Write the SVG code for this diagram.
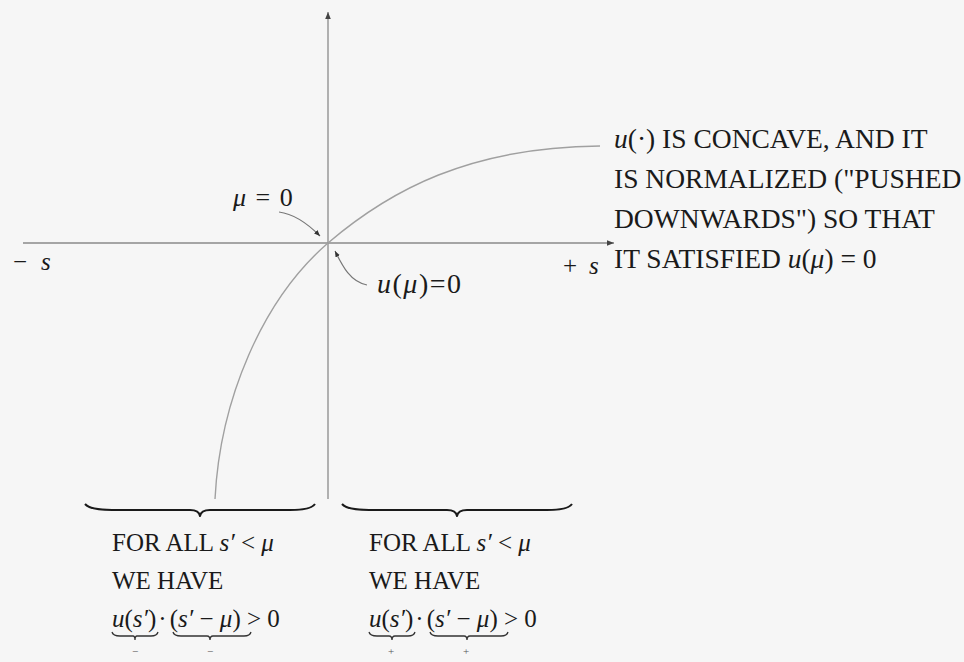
<svg xmlns="http://www.w3.org/2000/svg" width="964" height="662" viewBox="0 0 964 662">
<style>
.ax{stroke:#8a8a8a;stroke-width:1.3;fill:none}
.cv{stroke:#a0a0a0;stroke-width:1.4;fill:none}
.ld{stroke:#777;stroke-width:1.2;fill:none}
.br{stroke:#1a1a1a;stroke-width:2;fill:none;stroke-linejoin:round}
.sb{stroke:#333;stroke-width:1.3;fill:none}
text{fill:#1a1a1a}
.i{font-style:italic}
.t{font-size:27.5px}
.b{font-size:25px}
.sg{font-size:11px;fill:#555}
</style>
<defs>
<marker id="ah" markerWidth="8" markerHeight="8" refX="7" refY="4" orient="auto" markerUnits="userSpaceOnUse">
<path d="M0,1.2 L7,4 L0,6.8 Z" fill="#444"/>
</marker>
<marker id="ah2" markerWidth="8" markerHeight="8" refX="6" refY="3" orient="auto" markerUnits="userSpaceOnUse">
<path d="M0,0.6 L6,3 L0,5.4 Z" fill="#333"/>
</marker>
</defs>
<rect width="964" height="662" fill="#f6f6f6"/>
<g id="connectors">
<line class="ax" x1="23" y1="243" x2="614" y2="243" marker-end="url(#ah)"/>
<line class="ax" x1="328" y1="499" x2="328" y2="12" marker-end="url(#ah)"/>
<path class="cv" d="M215,499 C220,400 262,300 328,243 C390,190 470,147 600,146"/>
<path class="ld" d="M279,212 C295,214 308,224 320,236" marker-end="url(#ah2)"/>
<path class="ld" d="M367,285 C350,282 342,265 335,251" marker-end="url(#ah2)"/>
</g>
<g font-family="Liberation Serif, Tinos, Times New Roman, DejaVu Serif, serif">
<g id="axis-labels">
<text class="b" x="13" y="270">−<tspan class="i" dx="14">s</tspan></text>
<text class="b" x="563" y="274">+<tspan class="i" dx="12">s</tspan></text>
</g>
<g id="mu-label">
<text x="233" y="206" style="font-size:26px;letter-spacing:1.5px"><tspan class="i">μ</tspan> = 0</text>
</g>
<g id="u-mu-label">
<text x="377" y="293" style="font-size:28px;letter-spacing:1.5px"><tspan class="i">u</tspan>(<tspan class="i">μ</tspan>)=0</text>
</g>
<g id="description">
<text class="t" x="614" y="148"><tspan class="i">u</tspan>(·) IS CONCAVE, AND IT</text>
<text class="t" x="614" y="188">IS NORMALIZED ("PUSHED</text>
<text class="t" x="614" y="228">DOWNWARDS") SO THAT</text>
<text class="t" x="614" y="268">IT SATISFIED <tspan class="i">u</tspan>(<tspan class="i">μ</tspan>) = 0</text>
</g>
<g id="left-region">
<path class="br" d="M85,504 Q90,510 112,510 L190,510 Q199,510 200,516 Q201,510 210,510 L290,510 Q311,510 315,504"/>
<text class="b" x="112" y="551">FOR ALL <tspan class="i">s′</tspan> &lt; <tspan class="i">μ</tspan></text>
<text class="b" x="112" y="589">WE HAVE</text>
<text class="b" x="112" y="627"><tspan class="i">u</tspan>(<tspan class="i">s′</tspan>)<tspan dx="2">·</tspan><tspan dx="3">(</tspan><tspan class="i">s′</tspan> − <tspan class="i">μ</tspan>) &gt; 0</text>
<path class="sb" d="M112,632 Q113,636 120,636 L133,636 Q135,636 135,640 Q135,636 137,636 L151,636 Q157,636 158,632"/>
<path class="sb" d="M173,632 Q174,636 181,636 L207,636 Q210,636 210,640 Q210,636 213,636 L244,636 Q250,636 251,632"/>
<text class="sg" x="132" y="655">−</text>
<text class="sg" x="207" y="655">−</text>
</g>
<g id="right-region">
<path class="br" d="M342,504 Q347,510 369,510 L447,510 Q456,510 457,516 Q458,510 467,510 L547,510 Q568,510 572,504"/>
<text class="b" x="369" y="551">FOR ALL <tspan class="i">s′</tspan> &lt; <tspan class="i">μ</tspan></text>
<text class="b" x="369" y="589">WE HAVE</text>
<text class="b" x="369" y="627"><tspan class="i">u</tspan>(<tspan class="i">s′</tspan>)<tspan dx="2">·</tspan><tspan dx="3">(</tspan><tspan class="i">s′</tspan> − <tspan class="i">μ</tspan>) &gt; 0</text>
<path class="sb" d="M369,632 Q370,636 377,636 L389,636 Q392,636 392,640 Q392,636 395,636 L408,636 Q414,636 415,632"/>
<path class="sb" d="M430,632 Q431,636 438,636 L464,636 Q467,636 467,640 Q467,636 470,636 L501,636 Q507,636 508,632"/>
<text class="sg" x="388" y="655">+</text>
<text class="sg" x="463" y="655">+</text>
</g>
</g>
</svg>
